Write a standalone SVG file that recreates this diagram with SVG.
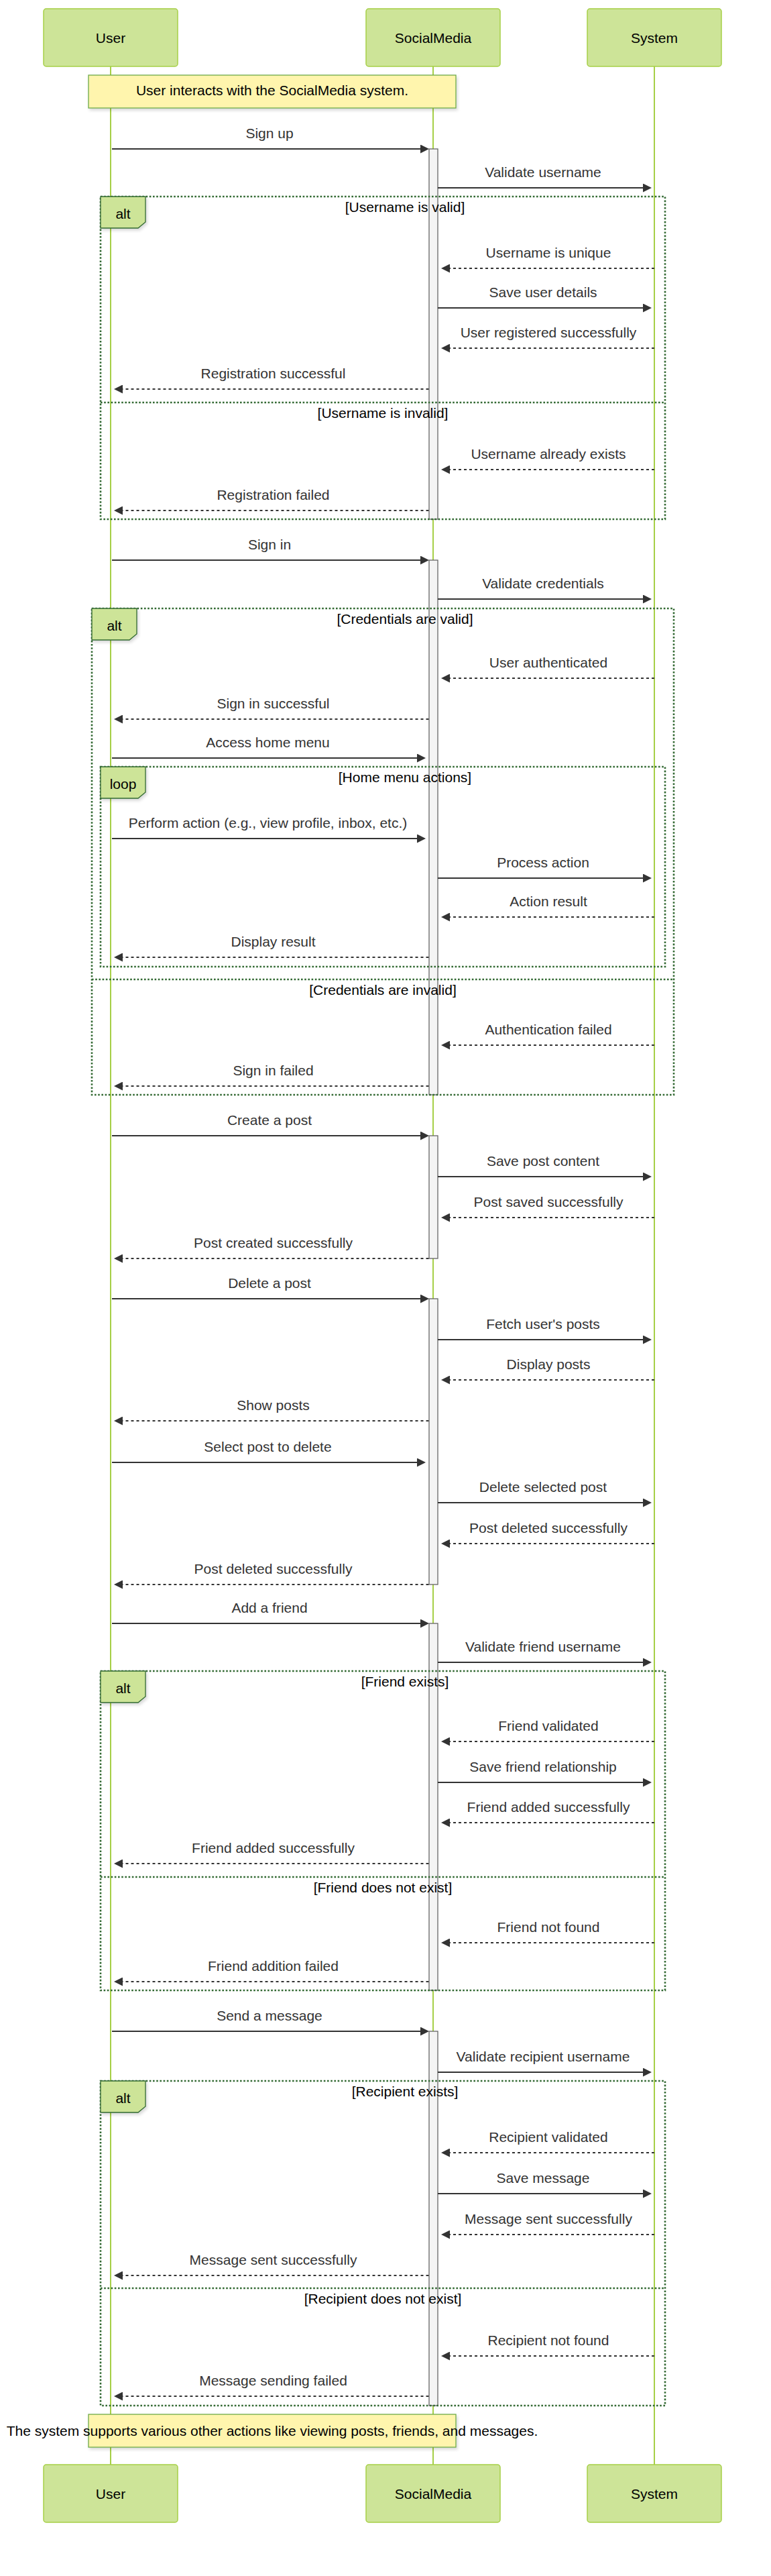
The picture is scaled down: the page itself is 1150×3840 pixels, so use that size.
<svg xmlns="http://www.w3.org/2000/svg" width="1150" height="3840" viewBox="0 0 1150 3840">
<defs>
<style>
text{font-family:"Liberation Sans",Arial,Helvetica,sans-serif;font-size:21px}
.actor rect{fill:#cde498;stroke:#a6cf47;stroke-width:1.5}
.actor text{fill:#000;text-anchor:middle}
.life{stroke:#a6cf47;stroke-width:2}
.act{fill:#f4f4f4;stroke:#666;stroke-width:1.3}
.frame{fill:none;stroke:#326932;stroke-width:2.6;stroke-dasharray:2.6 2.6}
.lbl{fill:#cde498;stroke:#326932;stroke-width:1.3;filter:url(#sh)}
.lbltxt{fill:#000;text-anchor:middle}
.sect{fill:#000;text-anchor:middle}
.note rect{fill:#fff5ad;stroke:#6eaa49;stroke-width:1.3;filter:url(#sh)}
.note text{fill:#000;text-anchor:middle}
.msg{stroke:#333;stroke-width:2;fill:none;marker-end:url(#ah)}
.ret{stroke-dasharray:4 4}
.mt{fill:#333;text-anchor:middle}
</style>
<marker id="ah" viewBox="0 0 10 10" refX="5.4" refY="5" markerUnits="userSpaceOnUse" markerWidth="13" markerHeight="13" orient="auto"><path d="M0,0 L10,5 L0,10 z" fill="#333"/></marker>
<filter id="sh" x="-10%" y="-10%" width="130%" height="150%"><feDropShadow dx="2" dy="3" stdDeviation="2" flood-color="#000" flood-opacity="0.15"/></filter>
</defs>
<rect width="1150" height="3840" fill="#fff"/>

<g id="lifelines">
<line class="life" x1="165" y1="99" x2="165" y2="3674"/>
<line class="life" x1="646" y1="99" x2="646" y2="3674"/>
<line class="life" x1="976" y1="99" x2="976" y2="3674"/>
</g>

<g id="actor-user-top" class="actor"><rect x="65" y="13" width="200" height="86" rx="4"/><text x="165" y="64">User</text></g>
<g id="actor-socialmedia-top" class="actor"><rect x="546" y="13" width="200" height="86" rx="4"/><text x="646" y="64">SocialMedia</text></g>
<g id="actor-system-top" class="actor"><rect x="876" y="13" width="200" height="86" rx="4"/><text x="976" y="64">System</text></g>

<g id="activations">
<rect class="act" x="640" y="222" width="13" height="552"/>
<rect class="act" x="640" y="835" width="13" height="797"/>
<rect class="act" x="640" y="1693" width="13" height="183"/>
<rect class="act" x="640" y="1936" width="13" height="426"/>
<rect class="act" x="640" y="2420" width="13" height="547"/>
<rect class="act" x="640" y="3028" width="13" height="558"/>
</g>

<g id="note-start" class="note"><rect x="132" y="112" width="548" height="49"/><text x="406" y="142">User interacts with the SocialMedia system.</text></g>

<g id="frame-alt-username">
<rect class="frame" x="150" y="293" width="842" height="481"/>
<line class="frame" x1="150" y1="600" x2="992" y2="600"/>
<polygon class="lbl" points="150,293 217,293 217,331 206,340 150,340"/>
<text class="lbltxt" x="183.5" y="326">alt</text>
<text class="sect" x="604" y="316">[Username is valid]</text>
<text class="sect" x="571" y="623">[Username is invalid]</text>
</g>

<g id="frame-alt-credentials">
<rect class="frame" x="137" y="907" width="868" height="725"/>
<line class="frame" x1="137" y1="1460" x2="1005" y2="1460"/>
<polygon class="lbl" points="137,907 204,907 204,945 193,954 137,954"/>
<text class="lbltxt" x="170.5" y="940">alt</text>
<text class="sect" x="604" y="930">[Credentials are valid]</text>
<text class="sect" x="571" y="1483">[Credentials are invalid]</text>
</g>

<g id="frame-loop-home">
<rect class="frame" x="150" y="1143" width="842" height="298"/>
<polygon class="lbl" points="150,1143 217,1143 217,1181 206,1190 150,1190"/>
<text class="lbltxt" x="183.5" y="1176">loop</text>
<text class="sect" x="604" y="1166">[Home menu actions]</text>
</g>

<g id="frame-alt-friend">
<rect class="frame" x="150" y="2491" width="842" height="476"/>
<line class="frame" x1="150" y1="2798" x2="992" y2="2798"/>
<polygon class="lbl" points="150,2491 217,2491 217,2529 206,2538 150,2538"/>
<text class="lbltxt" x="183.5" y="2524">alt</text>
<text class="sect" x="604" y="2514">[Friend exists]</text>
<text class="sect" x="571" y="2821">[Friend does not exist]</text>
</g>

<g id="frame-alt-recipient">
<rect class="frame" x="150" y="3102" width="842" height="484"/>
<line class="frame" x1="150" y1="3411" x2="992" y2="3411"/>
<polygon class="lbl" points="150,3102 217,3102 217,3140 206,3149 150,3149"/>
<text class="lbltxt" x="183.5" y="3135">alt</text>
<text class="sect" x="604" y="3125">[Recipient exists]</text>
<text class="sect" x="571" y="3434">[Recipient does not exist]</text>
</g>

<g id="connectors">
<path class="msg" d="M167,222 H634"/><text class="mt" x="402" y="206">Sign up</text>
<path class="msg" d="M653,280 H966"/><text class="mt" x="810" y="264">Validate username</text>
<path class="msg ret" d="M976,400 H664"/><text class="mt" x="818" y="384">Username is unique</text>
<path class="msg" d="M653,459 H966"/><text class="mt" x="810" y="443">Save user details</text>
<path class="msg ret" d="M976,519 H664"/><text class="mt" x="818" y="503">User registered successfully</text>
<path class="msg ret" d="M639.5,580 H176"/><text class="mt" x="407.5" y="564">Registration successful</text>
<path class="msg ret" d="M976,700 H664"/><text class="mt" x="818" y="684">Username already exists</text>
<path class="msg ret" d="M639.5,761 H176"/><text class="mt" x="407.5" y="745">Registration failed</text>
<path class="msg" d="M167,835 H634"/><text class="mt" x="402" y="819">Sign in</text>
<path class="msg" d="M653,893 H966"/><text class="mt" x="810" y="877">Validate credentials</text>
<path class="msg ret" d="M976,1011 H664"/><text class="mt" x="818" y="995">User authenticated</text>
<path class="msg ret" d="M639.5,1072 H176"/><text class="mt" x="407.5" y="1056">Sign in successful</text>
<path class="msg" d="M167,1130 H629"/><text class="mt" x="399.5" y="1114">Access home menu</text>
<path class="msg" d="M167,1250 H629"/><text class="mt" x="399.5" y="1234">Perform action (e.g., view profile, inbox, etc.)</text>
<path class="msg" d="M653,1309 H966"/><text class="mt" x="810" y="1293">Process action</text>
<path class="msg ret" d="M976,1367 H664"/><text class="mt" x="818" y="1351">Action result</text>
<path class="msg ret" d="M639.5,1427 H176"/><text class="mt" x="407.5" y="1411">Display result</text>
<path class="msg ret" d="M976,1558 H664"/><text class="mt" x="818" y="1542">Authentication failed</text>
<path class="msg ret" d="M639.5,1619 H176"/><text class="mt" x="407.5" y="1603">Sign in failed</text>
<path class="msg" d="M167,1693 H634"/><text class="mt" x="402" y="1677">Create a post</text>
<path class="msg" d="M653,1754 H966"/><text class="mt" x="810" y="1738">Save post content</text>
<path class="msg ret" d="M976,1815 H664"/><text class="mt" x="818" y="1799">Post saved successfully</text>
<path class="msg ret" d="M639.5,1876 H176"/><text class="mt" x="407.5" y="1860">Post created successfully</text>
<path class="msg" d="M167,1936 H634"/><text class="mt" x="402" y="1920">Delete a post</text>
<path class="msg" d="M653,1997 H966"/><text class="mt" x="810" y="1981">Fetch user's posts</text>
<path class="msg ret" d="M976,2057 H664"/><text class="mt" x="818" y="2041">Display posts</text>
<path class="msg ret" d="M639.5,2118 H176"/><text class="mt" x="407.5" y="2102">Show posts</text>
<path class="msg" d="M167,2180 H629"/><text class="mt" x="399.5" y="2164">Select post to delete</text>
<path class="msg" d="M653,2240 H966"/><text class="mt" x="810" y="2224">Delete selected post</text>
<path class="msg ret" d="M976,2301 H664"/><text class="mt" x="818" y="2285">Post deleted successfully</text>
<path class="msg ret" d="M639.5,2362 H176"/><text class="mt" x="407.5" y="2346">Post deleted successfully</text>
<path class="msg" d="M167,2420 H634"/><text class="mt" x="402" y="2404">Add a friend</text>
<path class="msg" d="M653,2478 H966"/><text class="mt" x="810" y="2462">Validate friend username</text>
<path class="msg ret" d="M976,2596 H664"/><text class="mt" x="818" y="2580">Friend validated</text>
<path class="msg" d="M653,2657 H966"/><text class="mt" x="810" y="2641">Save friend relationship</text>
<path class="msg ret" d="M976,2717 H664"/><text class="mt" x="818" y="2701">Friend added successfully</text>
<path class="msg ret" d="M639.5,2778 H176"/><text class="mt" x="407.5" y="2762">Friend added successfully</text>
<path class="msg ret" d="M976,2896 H664"/><text class="mt" x="818" y="2880">Friend not found</text>
<path class="msg ret" d="M639.5,2954 H176"/><text class="mt" x="407.5" y="2938">Friend addition failed</text>
<path class="msg" d="M167,3028 H634"/><text class="mt" x="402" y="3012">Send a message</text>
<path class="msg" d="M653,3089 H966"/><text class="mt" x="810" y="3073">Validate recipient username</text>
<path class="msg ret" d="M976,3209 H664"/><text class="mt" x="818" y="3193">Recipient validated</text>
<path class="msg" d="M653,3270 H966"/><text class="mt" x="810" y="3254">Save message</text>
<path class="msg ret" d="M976,3331 H664"/><text class="mt" x="818" y="3315">Message sent successfully</text>
<path class="msg ret" d="M639.5,3392 H176"/><text class="mt" x="407.5" y="3376">Message sent successfully</text>
<path class="msg ret" d="M976,3512 H664"/><text class="mt" x="818" y="3496">Recipient not found</text>
<path class="msg ret" d="M639.5,3572 H176"/><text class="mt" x="407.5" y="3556">Message sending failed</text>
</g>

<g id="note-end" class="note"><rect x="132" y="3599" width="548" height="49"/><text x="406" y="3631">The system supports various other actions like viewing posts, friends, and messages.</text></g>

<g id="actor-user-bottom" class="actor"><rect x="65" y="3674" width="200" height="86" rx="4"/><text x="165" y="3725">User</text></g>
<g id="actor-socialmedia-bottom" class="actor"><rect x="546" y="3674" width="200" height="86" rx="4"/><text x="646" y="3725">SocialMedia</text></g>
<g id="actor-system-bottom" class="actor"><rect x="876" y="3674" width="200" height="86" rx="4"/><text x="976" y="3725">System</text></g>
</svg>
